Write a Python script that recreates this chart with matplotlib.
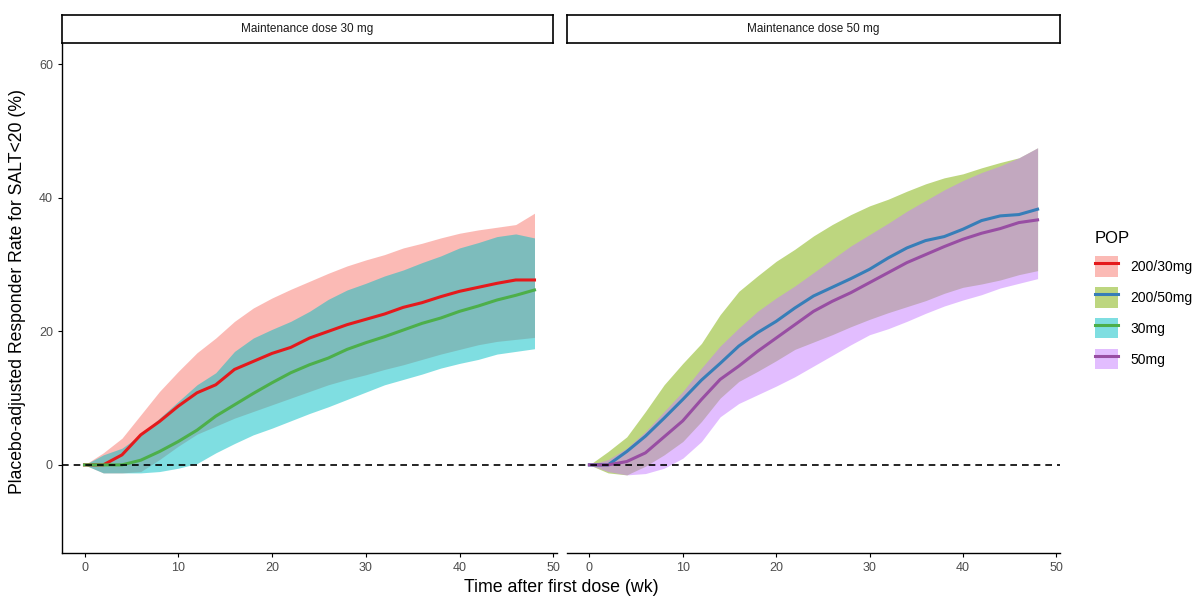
import matplotlib
matplotlib.use("Agg")
import matplotlib.pyplot as plt
from matplotlib.patches import Patch
from matplotlib.lines import Line2D
from matplotlib.legend_handler import HandlerTuple

plt.rcParams['font.family'] = ['Liberation Sans', 'DejaVu Sans']

weeks = list(range(0, 49, 2))

# left panel: maintenance dose 30 mg
r_mean = [0, 0, 1.5, 4.5, 6.5, 8.8, 10.8, 12.0, 14.3, 15.5, 16.7, 17.6, 19.0,
          20.0, 21.0, 21.8, 22.6, 23.6, 24.3, 25.2, 26.0, 26.6, 27.2, 27.7, 27.7]
r_hi = [0, 1.8, 4.0, 7.5, 11.0, 14.0, 16.8, 19.0, 21.5, 23.5, 25.0, 26.3, 27.5,
        28.7, 29.8, 30.7, 31.5, 32.5, 33.2, 34.0, 34.7, 35.2, 35.6, 36.0, 37.7]
r_lo = [0, -1.2, -1.2, -1.0, 0.8, 2.8, 4.6, 5.8, 7.0, 8.0, 9.0, 10.0, 11.0,
        12.0, 12.8, 13.5, 14.3, 15.0, 15.8, 16.6, 17.3, 18.0, 18.5, 18.8, 19.1]
g_mean = [0, 0, 0, 0.7, 2.0, 3.5, 5.2, 7.3, 9.0, 10.7, 12.3, 13.8, 15.0,
          16.0, 17.3, 18.3, 19.2, 20.2, 21.2, 22.0, 23.0, 23.8, 24.7, 25.4, 26.2]
g_hi = [0, 1.5, 2.5, 4.5, 7.0, 9.5, 12.0, 13.8, 17.0, 19.0, 20.3, 21.5, 23.0,
        24.8, 26.2, 27.2, 28.3, 29.2, 30.3, 31.3, 32.5, 33.3, 34.2, 34.6, 34.0]
g_lo = [0, -1.2, -1.2, -1.2, -1.0, -0.5, 0.2, 1.8, 3.2, 4.5, 5.5, 6.6, 7.7,
        8.7, 9.8, 10.9, 12.0, 12.8, 13.6, 14.5, 15.2, 15.8, 16.6, 17.0, 17.4]

# right panel: maintenance dose 50 mg
b_mean = [0, 0, 2.0, 4.3, 7.0, 9.8, 12.7, 15.2, 17.8, 19.8, 21.5, 23.5, 25.3,
          26.6, 27.9, 29.3, 31.0, 32.5, 33.6, 34.2, 35.3, 36.6, 37.3, 37.5, 38.3]
b_hi = [0, 2.0, 4.2, 8.0, 12.0, 15.2, 18.2, 22.5, 26.0, 28.3, 30.5, 32.3, 34.3,
        36.0, 37.5, 38.8, 39.8, 41.0, 42.1, 43.0, 43.6, 44.5, 45.3, 46.0, 47.5]
b_lo = [0, -1.2, -1.5, -0.2, 1.5, 3.5, 6.5, 10.0, 12.5, 14.0, 15.6, 17.3, 18.4,
        19.5, 20.7, 21.8, 22.8, 23.7, 24.6, 25.7, 26.6, 27.1, 27.7, 28.5, 29.1]
p_mean = [0, 0, 0.5, 1.8, 4.2, 6.6, 9.8, 12.8, 14.8, 17.0, 19.0, 21.0, 23.0,
          24.5, 25.8, 27.3, 28.8, 30.3, 31.5, 32.7, 33.8, 34.7, 35.4, 36.3, 36.7]
p_hi = [0, 0.8, 2.5, 5.0, 8.0, 11.0, 14.5, 17.8, 20.5, 23.0, 25.0, 26.8, 28.8,
        30.8, 32.8, 34.5, 36.2, 38.0, 39.6, 41.2, 42.6, 43.8, 44.8, 46.0, 47.5]
p_lo = [0, -1.0, -1.5, -1.3, -0.5, 1.0, 3.5, 7.2, 9.2, 10.5, 11.8, 13.2, 14.8,
        16.4, 18.0, 19.5, 20.4, 21.5, 22.7, 23.8, 24.7, 25.5, 26.5, 27.2, 27.9]

pops = ["200/30mg", "200/50mg", "30mg", "50mg"]
fill_cols = ["#F8766D", "#7CAE00", "#00BFC4", "#C77CFF"]
line_cols = ["#E41A1C", "#377EB8", "#4DAF4A", "#984EA3"]
panels = ["Maintenance dose 30 mg", "Maintenance dose 50 mg"]

W, H = 1195, 598
fig = plt.figure(figsize=(W / 100, H / 100), dpi=100, facecolor="white")

def px(x0, y0, x1, y1):
    return [x0 / W, 1 - y1 / H, (x1 - x0) / W, (y1 - y0) / H]

ax1 = fig.add_axes(px(62, 43, 557, 553))
ax2 = fig.add_axes(px(567, 43, 1060, 553))

panel_data = [
    (ax1, [(r_mean, r_hi, r_lo, 0), (g_mean, g_hi, g_lo, 2)]),
    (ax2, [(b_mean, b_hi, b_lo, 1), (p_mean, p_hi, p_lo, 3)]),
]

for ax, series in panel_data:
    for mean, hi, lo, k in series:
        ax.fill_between(weeks, lo, hi, color=fill_cols[k], alpha=0.5, lw=0)
    for mean, hi, lo, k in series:
        ax.plot(weeks, mean, color=line_cols[k], lw=2.2, solid_joinstyle="round")
    ax.axhline(0, color="black", lw=1.2, ls=(0, (4, 3)))
    ax.set_xlim(-2.4, 50.4)
    ax.set_ylim(-13.2, 63.2)
    ax.set_xticks([0, 10, 20, 30, 40, 50])
    ax.tick_params(axis="both", colors="#4D4D4D", labelsize=9, length=3, width=0.8)
    ax.tick_params(axis="x", colors="black", labelcolor="#4D4D4D")
    for s in ["top", "right"]:
        ax.spines[s].set_visible(False)
    ax.spines["bottom"].set_linewidth(1.0)
    ax.spines["left"].set_linewidth(1.0)

ax1.set_yticks([0, 20, 40, 60])
ax1.tick_params(axis="y", colors="black", labelcolor="#4D4D4D")
ax2.spines["left"].set_visible(False)
ax2.set_yticks([])

# facet strips
for (x0, x1), label in zip([(62, 553), (567, 1060)], panels):
    sax = fig.add_axes(px(x0, 15, x1, 43))
    sax.set_xticks([]); sax.set_yticks([])
    for s in sax.spines.values():
        s.set_linewidth(1.2)
    sax.text(0.5, 0.5, label, ha="center", va="center", fontsize=8.5,
             color="#1A1A1A", transform=sax.transAxes)

fig.text(18 / W, 1 - 292 / H, "Placebo-adjusted Responder Rate for SALT<20 (%)",
         rotation=90, ha="center", va="center", fontsize=12.7)
fig.text(561 / W, 1 - 587 / H, "Time after first dose (wk)",
         ha="center", va="center", fontsize=12.8)

handles = [(Patch(facecolor=fc, alpha=0.5, lw=0), Line2D([], [], color=lc, lw=2.2))
           for fc, lc in zip(fill_cols, line_cols)]
leg = fig.legend(handles, pops, handler_map={tuple: HandlerTuple(ndivide=1, pad=0)},
                 loc="center left", bbox_to_anchor=(1082 / W, 1 - 300 / H),
                 frameon=False, title="POP", fontsize=10, title_fontsize=12,
                 handlelength=1.7, handleheight=1.9, labelspacing=0.75,
                 handletextpad=0.9)
leg._legend_box.align = "left"

fig.savefig("out.png", dpi=100, facecolor="white")
